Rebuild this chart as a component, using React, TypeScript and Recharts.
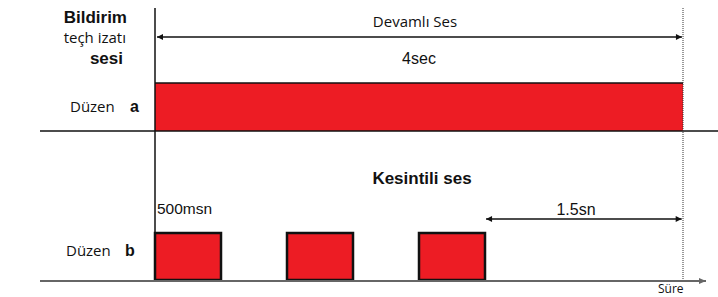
import { ComposedChart, XAxis, YAxis, ReferenceArea, ReferenceLine, ReferenceDot } from "recharts"

// time in seconds
const continuousTone = [{ start: 0, end: 4 }]
const intermittentTone = [
  { start: 0, end: 0.5 },
  { start: 1, end: 1.5 },
  { start: 2, end: 2.5 },
]
const totalSpan = { start: 0, end: 4 }
const pauseSpan = { start: 2.5, end: 4 }

const titleLines = ["Bildirim", "teçh izatı", "sesi"]
const patternNames = ["Düzen", "a", "b"]
const spanLabels = ["Devamlı Ses", "4sec", "Kesintili ses", "500msn", "1.5sn", "Süre"]

const W = 718
const H = 297
const ORIGIN = 155 // px where t = 0
const PX_PER_SEC = 132
const toT = (px: number) => (px - ORIGIN) / PX_PER_SEC

const RED = "#ed1c24"
const ARIAL = "'Liberation Sans', Arial, sans-serif"
const HUMAN = "'Open Sans', sans-serif"

const arrowLine =
  (both: boolean, color: string, width: number, head = 6) =>
  (p: any) => {
    const { x1, y1, x2, y2 } = p
    const l = Math.min(x1, x2)
    const r = Math.max(x1, x2)
    return (
      <g>
        <line x1={l} y1={y1} x2={r} y2={y2} stroke={color} strokeWidth={width} />
        <polygon points={`${r},${y2} ${r - head},${y2 - 3} ${r - head},${y2 + 3}`} fill={color} />
        {both && <polygon points={`${l},${y1} ${l + head},${y1 - 3} ${l + head},${y1 + 3}`} fill={color} />}
      </g>
    )
  }

function label(
  key: string,
  t: number,
  y: number,
  text: string,
  opts: { anchor?: "start" | "middle" | "end"; bold?: boolean; size?: number; font?: string; dx?: number }
) {
  return (
    <ReferenceDot
      key={key}
      x={t}
      y={y}
      r={0}
      shape={(p: any) => (
        <text
          x={p.cx + (opts.dx ?? 0)}
          y={p.cy}
          textAnchor={opts.anchor ?? "start"}
          fontFamily={opts.font ?? ARIAL}
          fontWeight={opts.bold ? "bold" : "normal"}
          fontSize={opts.size ?? 16}
          fill="#111"
        >
          {text}
        </text>
      )}
    />
  )
}

export default function App() {
  const mid = (s: { start: number; end: number }) => (s.start + s.end) / 2
  return (
    <div style={{ position: "absolute", left: 0, top: 0, background: "#fff" }}>
      <ComposedChart width={W} height={H} margin={{ top: 0, right: 0, bottom: 0, left: 0 }}>
        <XAxis type="number" dataKey="t" domain={[toT(0), toT(W)]} hide allowDataOverflow />
        <YAxis type="number" domain={[0, H]} reversed hide allowDataOverflow />

        {continuousTone.map((s, i) => (
          <ReferenceArea key={`a${i}`} x1={s.start} x2={s.end} y1={83} y2={131} fill={RED} fillOpacity={1} stroke="none" />
        ))}
        <ReferenceLine segment={[{ x: continuousTone[0].start, y: 83 }, { x: continuousTone[0].end, y: 83 }]} stroke="#111" strokeWidth={1.5} />

        <ReferenceLine segment={[{ x: toT(40), y: 131 }, { x: toT(W), y: 131 }]} stroke="#111" strokeWidth={1.5} />
        <ReferenceLine segment={[{ x: 0, y: 8 }, { x: 0, y: 281 }]} stroke="#111" strokeWidth={1.5} />
        <ReferenceLine
          segment={[{ x: totalSpan.end, y: 8 }, { x: totalSpan.end, y: 281 }]}
          stroke="#333"
          strokeWidth={1}
          strokeDasharray="1 1"
        />

        <ReferenceLine
          segment={[{ x: toT(40), y: 281 }, { x: toT(706), y: 281 }]}
          shape={arrowLine(false, "#666", 2, 7)}
        />

        <ReferenceLine
          segment={[{ x: totalSpan.start + 0.015, y: 37 }, { x: totalSpan.end - 0.008, y: 37 }]}
          shape={arrowLine(true, "#111", 1.5)}
        />
        <ReferenceLine
          segment={[{ x: pauseSpan.start + 0.008, y: 219 }, { x: pauseSpan.end - 0.01, y: 219 }]}
          shape={arrowLine(true, "#111", 1.5)}
        />

        {intermittentTone.map((s, i) => (
          <ReferenceArea
            key={`b${i}`}
            x1={s.start}
            x2={s.end}
            y1={233}
            y2={280}
            fill={RED}
            fillOpacity={1}
            stroke="#111"
            strokeWidth={2.5}
          />
        ))}

        {label("t0", toT(127), 23, titleLines[0], { anchor: "end", bold: true, size: 17 })}
        {label("t1", toT(126), 43, titleLines[1], { anchor: "end", font: HUMAN, size: 15 })}
        {label("t2", toT(123), 64, titleLines[2], { anchor: "end", bold: true, size: 17 })}

        {label("pa", toT(70), 112, patternNames[0], { font: HUMAN, size: 15 })}
        {label("pa2", toT(130), 112, patternNames[1], { bold: true, size: 16 })}
        {label("pb", toT(66), 256, patternNames[0], { font: HUMAN, size: 15 })}
        {label("pb2", toT(125), 256, patternNames[2], { bold: true, size: 16 })}

        {label("s0", mid(totalSpan), 27, spanLabels[0], { anchor: "middle", font: HUMAN, size: 15, dx: -4 })}
        {label("s1", mid(totalSpan), 64, spanLabels[1], { anchor: "middle", size: 16 })}
        {label("s2", mid(totalSpan), 184, spanLabels[2], { anchor: "middle", bold: true, size: 17, dx: 3 })}
        {label("s3", intermittentTone[0].start, 214, spanLabels[3], { size: 15.5, dx: 2 })}
        {label("s4", mid(pauseSpan), 215, spanLabels[4], { anchor: "middle", size: 16, dx: -8 })}
        {label("s5", toT(658), 293, spanLabels[5], { font: HUMAN, size: 12 })}
      </ComposedChart>
    </div>
  )
}
